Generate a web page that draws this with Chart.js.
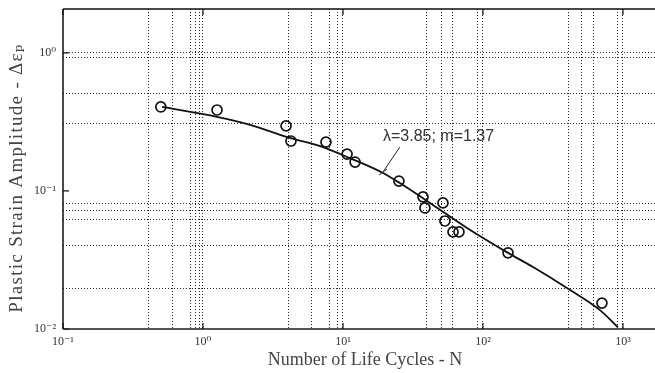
<!DOCTYPE html>
<html>
<head>
<meta charset="utf-8">
<script src="https://cdn.jsdelivr.net/npm/chart.js@4.4.0/dist/chart.umd.min.js"></script>
<style>
  html, body { margin: 0; padding: 0; background: #fff; }
  #wrap { width: 655px; height: 373px; }
</style>
</head>
<body>
<div id="wrap"><canvas id="chart"></canvas></div>
<script>
// test points: life cycles N and plastic strain amplitude
const cyclesN = [0.50, 1.26, 3.92, 4.25, 7.56, 10.7, 12.2, 25.1, 37.3, 38.5, 51.8, 53.5, 61.1, 67.4, 151, 708];
const strainAmp = [0.406, 0.386, 0.296, 0.230, 0.226, 0.185, 0.162, 0.118, 0.0905, 0.0753, 0.0819, 0.0606, 0.0505, 0.0505, 0.0356, 0.0154];

// fitted curve (lambda=3.85, m=1.37)
const fitN = [0.51, 1.26, 2.17, 4.18, 7.2, 11.2, 19.3, 25.5, 43.9, 76.9, 151, 228, 398, 685, 921];
const fitStrain = [0.406, 0.344, 0.301, 0.242, 0.208, 0.173, 0.135, 0.114, 0.0792, 0.0539, 0.0356, 0.0281, 0.0198, 0.0137, 0.0103];

// grid lines as they appear in the picture
const xGrid = [0.405, 0.601, 0.821, 0.891, 0.952, 1, 4.05, 6.0, 8.07, 9.2, 10, 39.8, 50.9, 60.1, 92, 100, 405, 509, 611, 921, 1000];
const yGrid = [1, 0.92, 0.51, 0.306, 0.0805, 0.0716, 0.0626, 0.040, 0.0198];

// decade ticks and their labels
const xDecades = [0.1, 1, 10, 100, 1000];
const xTickLabels = ['10\u207B\u00B9', '10\u2070', '10\u00B9', '10\u00B2', '10\u00B3'];
const yDecades = [0.01, 0.1, 1];
const yTickLabels = ['10\u207B\u00B2', '10\u207B\u00B9', '10\u2070'];

const xTitle = 'Number of Life Cycles - N';
const yTitle = 'Plastic Strain Amplitude - \u0394\u03B5\u209A';

// annotation: label anchor and leader line ends (data coords)
const noteText = '\u03BB=3.85; m=1.37';
const noteAt = [19.3, 0.246];
const leaderFrom = [25.5, 0.208];
const leaderTo = [19.3, 0.137];

const same = (a, b) => Math.abs(Math.log10(a) - Math.log10(b)) < 1e-6;

function tickSet(grid, decades) {
  const vals = grid.slice();
  decades.forEach(d => { if (!vals.some(v => same(v, d))) vals.push(d); });
  return vals.sort((a, b) => a - b).map(v => ({ value: v }));
}

function labelFor(value, decades, labels) {
  const i = decades.findIndex(d => same(d, value));
  return i >= 0 ? labels[i] : '';
}

const serif = "'Liberation Serif', 'DejaVu Serif', serif";

const framePlugin = {
  id: 'frame',
  afterDraw(chart) {
    const { ctx, chartArea: a, scales } = chart;
    ctx.save();
    // top and left edges
    ctx.strokeStyle = '#111';
    ctx.lineWidth = 1.5;
    ctx.beginPath();
    ctx.moveTo(a.left, a.top);
    ctx.lineTo(a.right, a.top);
    ctx.moveTo(a.left, a.top);
    ctx.lineTo(a.left, a.bottom);
    ctx.stroke();
    // bottom edge
    ctx.strokeStyle = '#555';
    ctx.lineWidth = 2;
    ctx.beginPath();
    ctx.moveTo(a.left, a.bottom);
    ctx.lineTo(a.right, a.bottom);
    ctx.stroke();
    // inward decade ticks
    ctx.strokeStyle = '#111';
    ctx.lineWidth = 1.2;
    ctx.beginPath();
    xDecades.forEach(d => {
      const x = scales.x.getPixelForValue(d);
      ctx.moveTo(x, a.top); ctx.lineTo(x, a.top + 6);
      ctx.moveTo(x, a.bottom); ctx.lineTo(x, a.bottom - 6);
    });
    yDecades.forEach(d => {
      const y = scales.y.getPixelForValue(d);
      ctx.moveTo(a.left, y); ctx.lineTo(a.left + 6, y);
    });
    ctx.stroke();
    // annotation
    const px = p => [scales.x.getPixelForValue(p[0]), scales.y.getPixelForValue(p[1])];
    const f = px(leaderFrom), t = px(leaderTo), n = px(noteAt);
    ctx.strokeStyle = '#222';
    ctx.lineWidth = 1;
    ctx.beginPath();
    ctx.moveTo(f[0], f[1]); ctx.lineTo(t[0], t[1]);
    ctx.moveTo(t[0] - 4, t[1] + 3); ctx.lineTo(t[0] + 4, t[1] - 3);
    ctx.stroke();
    ctx.fillStyle = '#333';
    ctx.font = "16px 'Liberation Sans', Arial, sans-serif";
    ctx.textBaseline = 'middle';
    ctx.textAlign = 'left';
    ctx.fillText(noteText, n[0], n[1]);
    // axis titles
    ctx.fillStyle = '#444';
    ctx.font = '18px ' + serif;
    ctx.textAlign = 'center';
    ctx.fillText(xTitle, a.left + (a.right - a.left) * 0.51, a.bottom + 31);
    ctx.translate(17, a.top + (a.bottom - a.top) * 0.528);
    ctx.rotate(-Math.PI / 2);
    ctx.font = '19px ' + serif;
    ctx.letterSpacing = '1.3px';
    ctx.fillText(yTitle, 0, 0);
    ctx.restore();
  }
};

new Chart(document.getElementById('chart'), {
  type: 'scatter',
  data: {
    datasets: [{
      type: 'line',
      data: fitN.map((n, i) => ({ x: n, y: fitStrain[i] })),
      borderColor: '#111',
      borderWidth: 1.8,
      pointRadius: 0,
      cubicInterpolationMode: 'monotone',
      fill: false
    }, {
      data: cyclesN.map((n, i) => ({ x: n, y: strainAmp[i] })),
      pointStyle: 'circle',
      pointRadius: 5,
      pointBorderWidth: 1.7,
      borderColor: '#111',
      backgroundColor: 'rgba(0,0,0,0)'
    }]
  },
  options: {
    responsive: true,
    maintainAspectRatio: false,
    animation: false,
    layout: { autoPadding: false, padding: { top: 9, right: 0, left: 0, bottom: 0 } },
    plugins: { legend: { display: false }, tooltip: { enabled: false } },
    scales: {
      x: {
        type: 'logarithmic',
        min: 0.1,
        max: 1694,
        afterBuildTicks: s => { s.ticks = tickSet(xGrid, xDecades); },
        afterFit: s => { s.height = 44; s.paddingLeft = 0; s.paddingRight = 0; s.paddingTop = 0; s.paddingBottom = 0; },
        grid: {
          color: c => xGrid.some(v => same(v, c.tick.value)) ? 'rgba(0,0,0,0.85)' : 'rgba(0,0,0,0)',
          lineWidth: 1,
          drawTicks: false
        },
        border: { display: false, dash: [1, 2] },
        ticks: {
          autoSkip: false,
          maxRotation: 0,
          padding: 6,
          color: '#333',
          font: { family: serif, size: 12 },
          callback: v => labelFor(v, xDecades, xTickLabels)
        }
      },
      y: {
        type: 'logarithmic',
        min: 0.01,
        max: 2.08,
        afterBuildTicks: s => { s.ticks = tickSet(yGrid, yDecades); },
        afterFit: s => { s.width = 63; s.paddingLeft = 0; s.paddingRight = 0; s.paddingTop = 0; s.paddingBottom = 0; },
        grid: {
          color: c => yGrid.some(v => same(v, c.tick.value)) ? 'rgba(0,0,0,0.85)' : 'rgba(0,0,0,0)',
          lineWidth: 1,
          drawTicks: false
        },
        border: { display: false, dash: [1, 2] },
        ticks: {
          autoSkip: false,
          padding: 7,
          color: '#333',
          font: { family: serif, size: 12 },
          callback: v => labelFor(v, yDecades, yTickLabels)
        }
      }
    }
  },
  plugins: [framePlugin]
});
</script>
</body>
</html>
